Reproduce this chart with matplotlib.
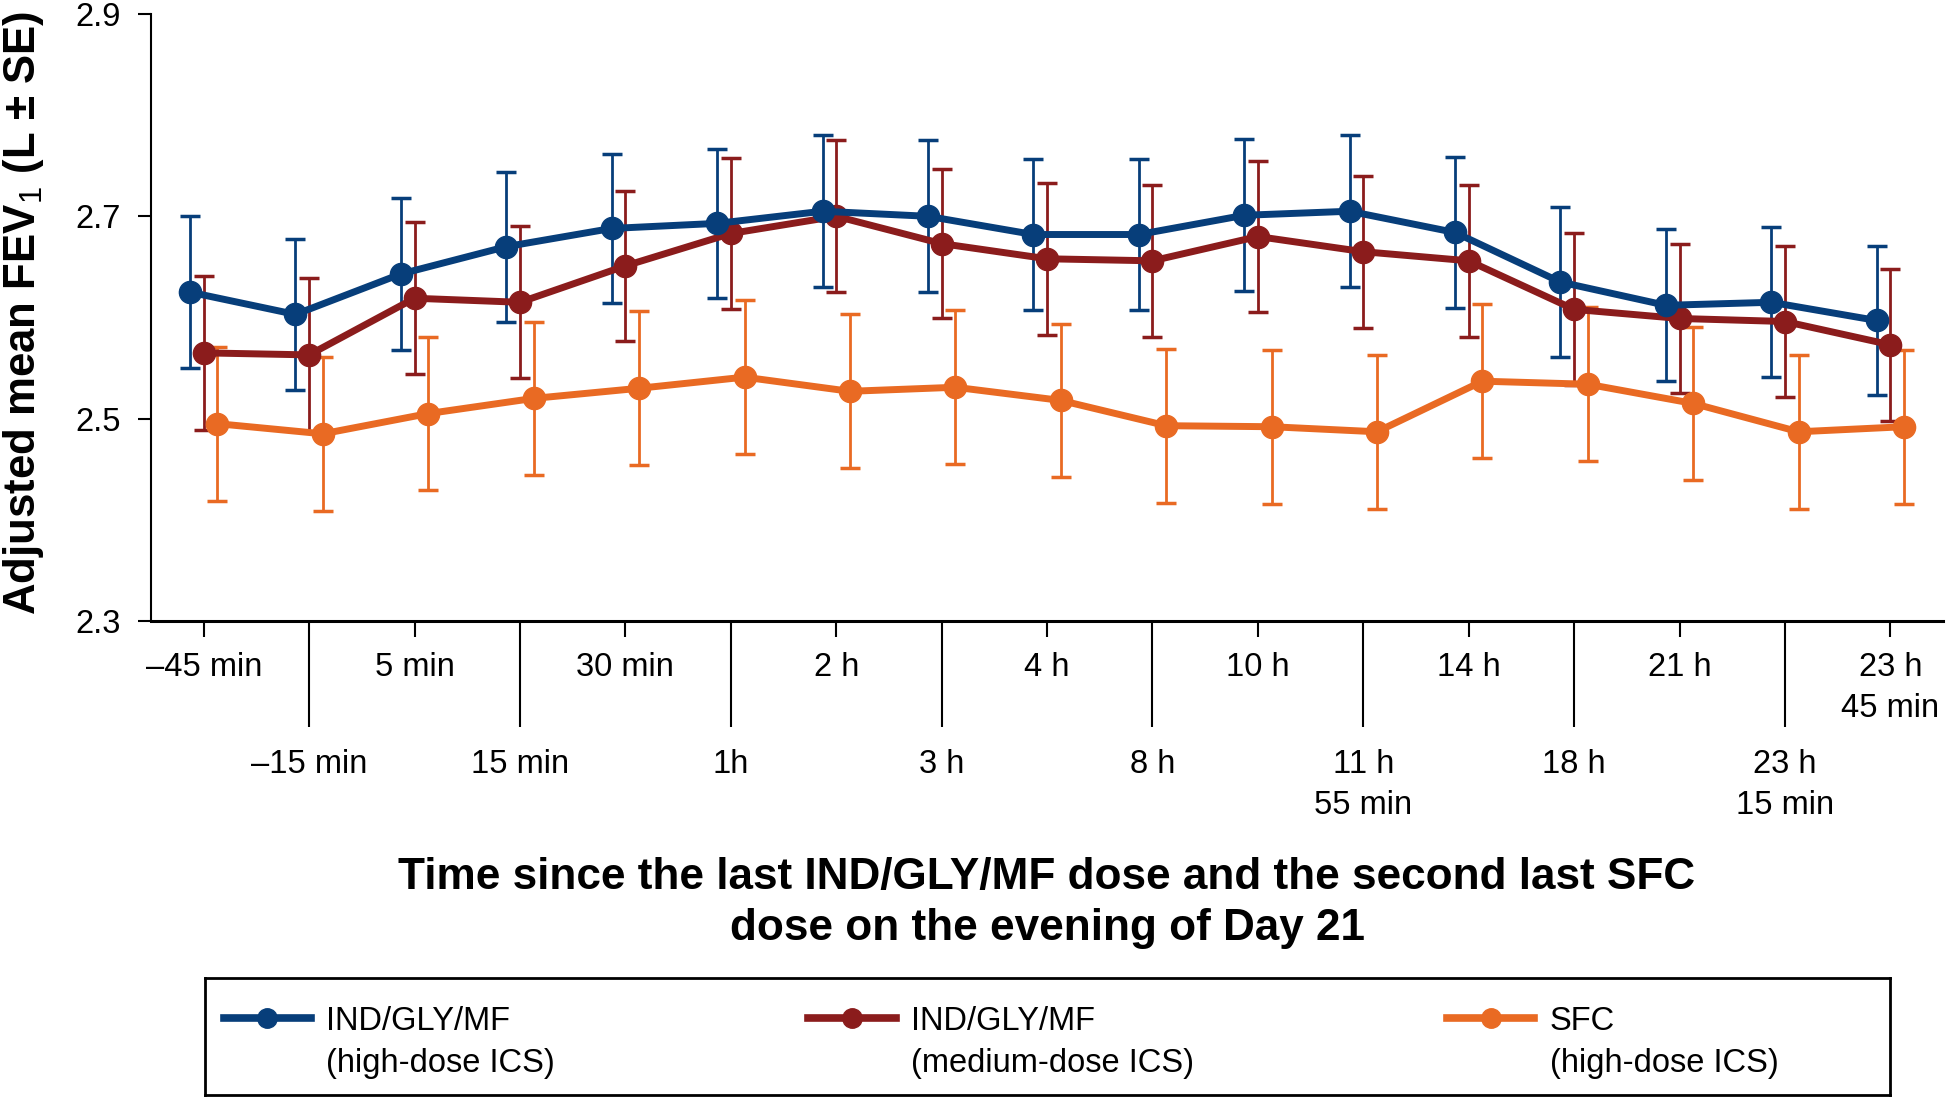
import matplotlib.pyplot as plt
import numpy as np

plt.rcParams['font.family'] = ['Liberation Sans', 'DejaVu Sans']
plt.rcParams['mathtext.fontset'] = 'custom'
plt.rcParams['mathtext.rm'] = 'Liberation Sans'
plt.rcParams['mathtext.it'] = 'Liberation Sans'
plt.rcParams['mathtext.default'] = 'rm'

# time points (odd ones are drawn on the second label row)
time_labels = ['–45 min', '–15 min', '5 min', '15 min', '30 min', '1h', '2 h', '3 h',
               '4 h', '8 h', '10 h', '11 h\n55 min', '14 h', '18 h', '21 h',
               '23 h\n15 min', '23 h\n45 min']

# IND/GLY/MF high-dose ICS
high_mean = [2.625, 2.603, 2.643, 2.670, 2.688, 2.693, 2.705, 2.700, 2.682, 2.682,
             2.701, 2.705, 2.684, 2.635, 2.612, 2.615, 2.597]
high_se = [0.075, 0.075, 0.075, 0.074, 0.074, 0.074, 0.075, 0.075, 0.075, 0.075,
           0.075, 0.075, 0.075, 0.074, 0.075, 0.074, 0.074]

# IND/GLY/MF medium-dose ICS
med_mean = [2.565, 2.563, 2.619, 2.615, 2.651, 2.683, 2.700, 2.673, 2.658, 2.656,
            2.680, 2.665, 2.656, 2.608, 2.599, 2.596, 2.573]
med_se = [0.076, 0.076, 0.075, 0.075, 0.074, 0.075, 0.075, 0.074, 0.075, 0.075,
          0.075, 0.075, 0.075, 0.075, 0.074, 0.075, 0.075]

# SFC high-dose ICS
sfc_mean = [2.495, 2.485, 2.505, 2.520, 2.530, 2.541, 2.527, 2.531, 2.518, 2.493,
            2.492, 2.487, 2.537, 2.534, 2.515, 2.487, 2.492]
sfc_se = [0.076, 0.076, 0.076, 0.076, 0.076, 0.076, 0.076, 0.076, 0.076, 0.076,
          0.076, 0.076, 0.076, 0.076, 0.076, 0.076, 0.076]

legend_names = ['IND/GLY/MF', 'IND/GLY/MF', 'SFC']
legend_notes = ['(high-dose ICS)', '(medium-dose ICS)', '(high-dose ICS)']

BLUE = '#073e7a'
RED = '#8b1c1c'
ORANGE = '#e96a23'

fig = plt.figure(figsize=(19.46, 11), dpi=100)
ax = fig.add_axes([0.0776, 0.4355, 0.9209, 0.5518])

x = np.arange(len(time_labels))
shift = 0.13
series = [
    (sfc_mean, sfc_se, ORANGE, shift),
    (med_mean, med_se, RED, 0.0),
    (high_mean, high_se, BLUE, -shift),
]
for vals, se, col, off in series:
    ax.errorbar(x + off, vals, yerr=se, color=col, lw=5, marker='o', ms=16,
                elinewidth=2, capsize=7.5, capthick=2.5, clip_on=False)

ax.set_xlim(-0.5, 16.5)
ax.set_ylim(2.3, 2.9)
ax.spines['top'].set_visible(False)
ax.spines['right'].set_visible(False)
ax.spines['left'].set_linewidth(1.5)
ax.spines['bottom'].set_linewidth(2.2)

ax.set_yticks([2.3, 2.5, 2.7, 2.9], ['2.3', '2.5', '2.7', '2.9'])
ax.tick_params(axis='y', length=9.5, width=1.5, labelsize=23.5, pad=12)

ax.set_xticks(x[::2], time_labels[::2])
ax.set_xticks(x[1::2], time_labels[1::2], minor=True)
ax.tick_params(axis='x', which='major', length=11.5, width=1.5, pad=11, labelsize=23.5)
ax.tick_params(axis='x', which='minor', length=76, width=1.5, pad=16, labelsize=23.5)
for lab in ax.get_xticklabels() + ax.get_xticklabels(minor=True):
    lab.set_linespacing(1.42)

fig.text(1 / 1946, 1 - 313 / 1100, 'Adjusted mean FEV$_1$ (L ± SE)',
         rotation=90, ha='left', va='center', fontsize=31.5, fontweight='bold')

fig.text(1047 / 1946, 1 - 903 / 1100,
         'Time since the last IND/GLY/MF dose and the second last SFC\n'
         'dose on the evening of Day 21',
         ha='center', va='center', fontsize=31.8, fontweight='bold', linespacing=1.3)

# legend box drawn by hand so the handle sits on the first text line
lax = fig.add_axes([205 / 1946, 5 / 1100, 1685 / 1946, 117 / 1100])
lax.set_xlim(0, 1)
lax.set_ylim(0, 1)
lax.set_xticks([])
lax.set_yticks([])
for sp in lax.spines.values():
    sp.set_linewidth(2)

starts = [0.011, 0.358, 0.737]
for x0, col, name, note in zip(starts, [BLUE, RED, ORANGE], legend_names, legend_notes):
    lax.plot([x0, x0 + 0.052], [0.66, 0.66], color=col, lw=5.5)
    lax.plot([x0 + 0.026], [0.66], 'o', color=col, ms=14)
    lax.text(x0 + 0.061, 0.556, name, fontsize=23.5, va='baseline')
    lax.text(x0 + 0.061, 0.195, note, fontsize=23.5, va='baseline')

fig.savefig('out.png', dpi=100)
